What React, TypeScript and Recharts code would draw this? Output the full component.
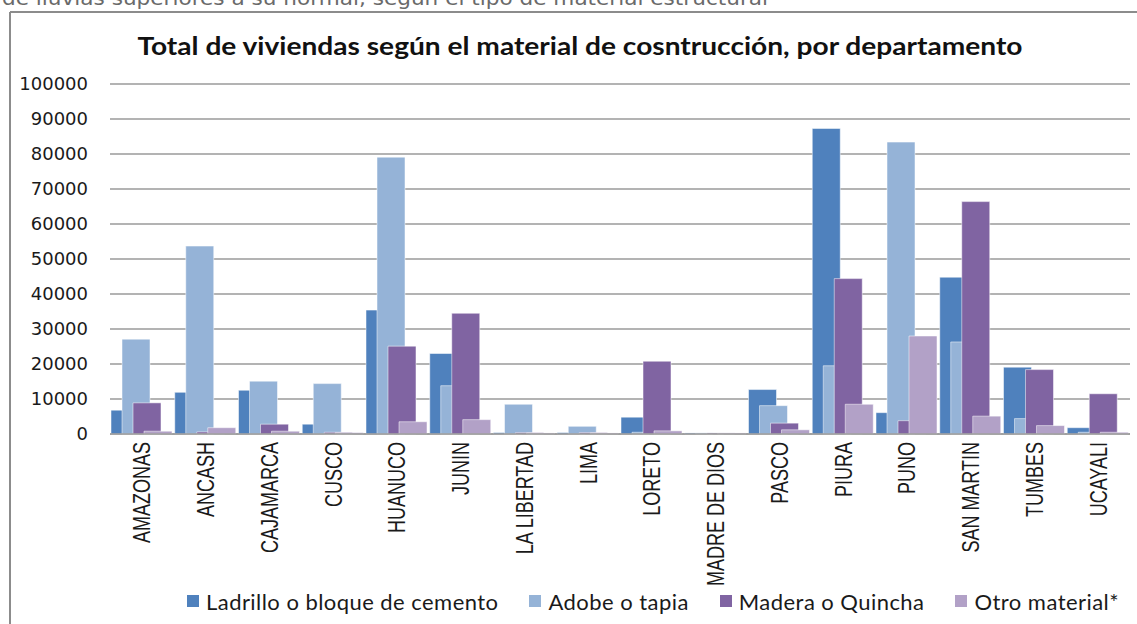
import { BarChart, Bar, XAxis, YAxis, CartesianGrid, Legend } from 'recharts';

const departamentos = [
  'AMAZONAS', 'ANCASH', 'CAJAMARCA', 'CUSCO', 'HUANUCO', 'JUNIN', 'LA LIBERTAD', 'LIMA',
  'LORETO', 'MADRE DE DIOS', 'PASCO', 'PIURA', 'PUNO', 'SAN MARTIN', 'TUMBES', 'UCAYALI',
];
const ladrillo = [6800, 11900, 12500, 2800, 35400, 23000, 400, 400, 4800, 300, 12700, 87300, 6100, 44800, 19100, 1800];
const adobe = [27100, 53700, 15100, 14400, 79100, 13800, 8500, 2200, 500, 300, 8100, 19500, 83400, 26300, 4400, 500];
const madera = [8900, 600, 2800, 500, 25100, 34500, 400, 400, 20800, 300, 3100, 44400, 3800, 66400, 18400, 11500];
const otro = [800, 1800, 800, 400, 3500, 4100, 300, 300, 900, 300, 1200, 8500, 28000, 5100, 2400, 500];
const yTicks = [0, 10000, 20000, 30000, 40000, 50000, 60000, 70000, 80000, 90000, 100000];

const series = [
  { key: 'ladrillo', name: 'Ladrillo o bloque de cemento', color: '#4F81BD' },
  { key: 'adobe', name: 'Adobe o tapia', color: '#95B3D7' },
  { key: 'madera', name: 'Madera o Quincha', color: '#8064A2' },
  { key: 'otro', name: 'Otro material*', color: '#B2A1C7' },
];

const data = departamentos.map((name, i) => ({
  name,
  ladrillo: ladrillo[i],
  adobe: adobe[i],
  madera: madera[i],
  otro: otro[i],
}));

const DeptTick = ({ x, y, payload }: any) => (
  <text
    transform={`translate(${x},${y}) rotate(-90) scale(1,1.3)`}
    textAnchor="end"
    dy="0.36em"
    fontSize={18}
    fontFamily="'Liberation Sans', Arial, sans-serif"
    fill="#1a1a1a"
  >
    {payload.value}
  </text>
);

const LegendContent = () => (
  <div style={{ display: 'flex', alignItems: 'center', height: 30, fontFamily: 'Lato, sans-serif', fontSize: 22, letterSpacing: 0.45, color: '#1a1a1a' }}>
    {series.map((s) => (
      <div key={s.key} style={{ display: 'flex', alignItems: 'center', marginRight: 31 }}>
        <span style={{ width: 12, height: 12, background: s.color, marginRight: 7, display: 'inline-block' }} />
        <span>{s.name}</span>
      </div>
    ))}
  </div>
);

export default function App() {
  return (
    <div style={{ position: 'absolute', left: 0, top: 0, width: 1137, height: 624, background: '#fff', overflow: 'hidden' }}>
      <BarChart
        width={1137}
        height={624}
        data={data}
        margin={{ top: 84, right: 7, bottom: 8, left: 10 }}
        barSize={28}
        barGap={-17}
      >
        <CartesianGrid vertical={false} stroke="#9a9a9a" strokeWidth={1.5} />
        <XAxis
          dataKey="name"
          interval={0}
          height={152}
          tick={<DeptTick />}
          tickLine={false}
          axisLine={{ stroke: '#9a9a9a', strokeWidth: 1.5 }}
        />
        <YAxis
          width={100}
          domain={[0, 100000]}
          ticks={yTicks}
          axisLine={false}
          tickLine={false}
          tickSize={0}
          tickMargin={22}
          tick={{ fontSize: 18, fill: '#1a1a1a', fontFamily: "'DejaVu Sans', sans-serif" }}
        />
        <Legend
          verticalAlign="bottom"
          align="left"
          content={<LegendContent />}
          wrapperStyle={{ left: 187, height: 30 }}
        />
        {series.map((s) => (
          <Bar
            key={s.key}
            dataKey={s.key}
            name={s.name}
            fill={s.color}
            stroke="#ffffff"
            strokeOpacity={0.5}
            strokeWidth={1}
            isAnimationActive={false}
          />
        ))}
      </BarChart>
      <svg width={1137} height={624} style={{ position: 'absolute', left: 0, top: 0, pointerEvents: 'none' }}>
        <text x={2} y={5} fontSize={19} fontFamily="'DejaVu Sans', sans-serif" fill="#6a6a6a" textLength={766} lengthAdjust="spacingAndGlyphs">
          de lluvias superiores a su normal, según el tipo de material estructural
        </text>
        <line x1={10} y1={12} x2={1137} y2={12} stroke="#8c8c8c" strokeWidth={2} />
        <line x1={10} y1={12} x2={10} y2={624} stroke="#8c8c8c" strokeWidth={2} />
        <text x={580} y={55} textAnchor="middle" fontSize={24} fontWeight="bold" fontFamily="Lato, sans-serif" fill="#111" textLength={885} lengthAdjust="spacingAndGlyphs">
          Total de viviendas según el material de cosntrucción, por departamento
        </text>
      </svg>
    </div>
  );
}
